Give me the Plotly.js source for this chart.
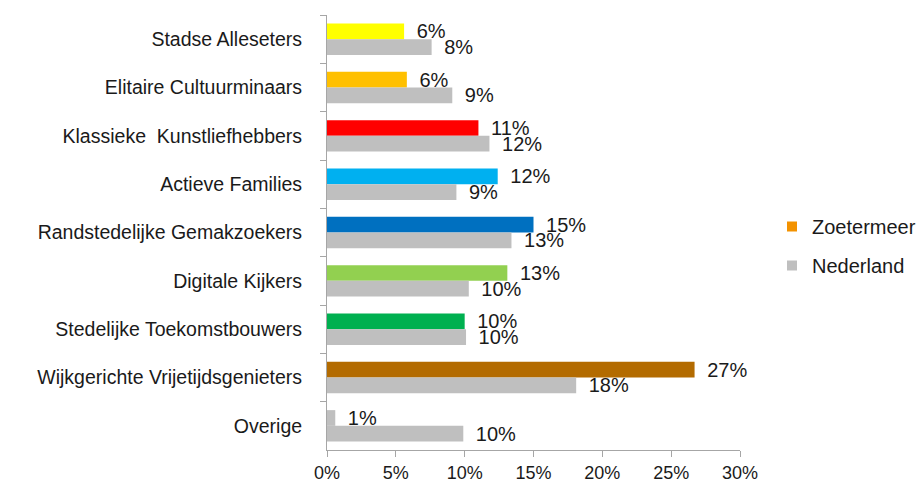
<!DOCTYPE html>
<html>
<head>
<meta charset="utf-8">
<script src="https://cdn.plot.ly/plotly-3.0.1.min.js"></script>
<style>html,body{margin:0;padding:0;background:#fff;}#chart{width:923px;height:483px;}</style>
</head>
<body>
<div id="chart"></div>
<script>
var categories = ["Stadse Alleseters", "Elitaire Cultuurminaars", "Klassieke  Kunstliefhebbers", "Actieve Families", "Randstedelijke Gemakzoekers", "Digitale Kijkers", "Stedelijke Toekomstbouwers", "Wijkgerichte Vrijetijdsgenieters", "Overige"];
var zoetermeer = [5.6, 5.8, 11.0, 12.4, 15.0, 13.1, 10.0, 26.7, 0.6];
var nederland = [7.6, 9.1, 11.8, 9.4, 13.4, 10.3, 10.1, 18.1, 9.9];
var zoetermeerColors = ["#FFFF00", "#FFC000", "#FF0000", "#00B0F0", "#0070C0", "#92D050", "#00B050", "#B36B00", "#BFBFBF"];
var seriesNames = ["Zoetermeer", "Nederland"];
var legendColors = ["#F39200", "#BFBFBF"];
var xTicks = [0, 5, 10, 15, 20, 25, 30];
var xTickText = xTicks.map(function (v) { return v + "%"; });

var FONT = "Liberation Sans, Arial, sans-serif";
var textFont = {family: FONT, size: 20, color: "#1a1a1a"};
var tmpl = "\u00a0\u2009%{x:.0f}%";
var data = [
  {type: "bar", orientation: "h", name: seriesNames[0], y: categories, x: zoetermeer,
   marker: {color: zoetermeerColors}, texttemplate: tmpl, textposition: "outside", constraintext: "none",
   textfont: textFont, cliponaxis: false, showlegend: false, hoverinfo: "x+y"},
  {type: "bar", orientation: "h", name: seriesNames[1], y: categories, x: nederland,
   marker: {color: legendColors[1]}, texttemplate: tmpl, textposition: "outside", constraintext: "none",
   textfont: textFont, cliponaxis: false, showlegend: false, hoverinfo: "x+y"},
  {type: "scatter", mode: "markers", name: seriesNames[0], x: [null], y: [null], legendgroup: "a",
   marker: {symbol: "square", size: 10, color: legendColors[0]}},
  {type: "scatter", mode: "markers", name: seriesNames[1], x: [null], y: [null], legendgroup: "b",
   marker: {symbol: "square", size: 10, color: legendColors[1]}}
];

var layout = {
  width: 923, height: 483,
  margin: {l: 327, r: 183, t: 15, b: 33, pad: 0, autoexpand: false},
  paper_bgcolor: "#fff", plot_bgcolor: "#fff",
  barmode: "group", bargap: 0.35, bargroupgap: 0,
  showlegend: true,
  legend: {xref: "container", yref: "container", x: 772 / 923, y: 1 - 246 / 483, xanchor: "left", yanchor: "middle", tracegroupgap: 10,
           font: {family: FONT, size: 20, color: "#1a1a1a"},
           itemwidth: 30, bgcolor: "rgba(0,0,0,0)"},
  xaxis: {range: [0, 30], tickvals: xTicks, ticktext: xTickText, showgrid: false, zeroline: false,
          showline: true, linecolor: "#A6A6A6", linewidth: 1, ticks: "outside", ticklen: 6, tickcolor: "#A6A6A6",
          tickfont: {family: FONT, size: 18, color: "#1a1a1a"}, fixedrange: true},
  yaxis: {type: "category", autorange: "reversed", showgrid: false, zeroline: false,
          showline: true, linecolor: "#A6A6A6", linewidth: 1, ticks: "outside", tickson: "boundaries",
          ticklen: 6, tickcolor: "#A6A6A6", ticklabelstandoff: 20,
          tickfont: {family: FONT, size: 19.5, color: "#1a1a1a"}, fixedrange: true}
};

Plotly.newPlot("chart", data, layout, {displayModeBar: false, staticPlot: true});
</script>
</body>
</html>
